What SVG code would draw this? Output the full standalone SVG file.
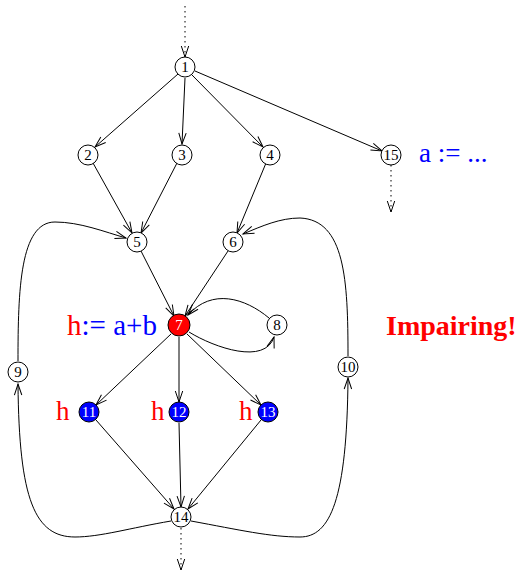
<svg xmlns="http://www.w3.org/2000/svg" width="517" height="576" viewBox="0 0 517 576">
<style>
.n circle{fill:#fff;stroke:#000;stroke-width:1}
.n text{font-family:"Liberation Serif",serif;font-size:15px;text-anchor:middle;fill:#000}
.n.red circle{fill:#f00}
.n.blue circle{fill:#00f}
.n.red text,.n.blue text{fill:#fff}
.e{fill:none;stroke:#000;stroke-width:1;marker-end:url(#arr)}
.d{stroke-dasharray:1.5 3.5}
.lbl{font-family:"Liberation Serif",serif;font-size:27px}
.big{font-size:29px}
.imp{font-size:28px;font-weight:bold}
</style>
<defs>
<marker id="arr" markerUnits="userSpaceOnUse" markerWidth="14" markerHeight="10" refX="11" refY="4" orient="auto" overflow="visible">
<path d="M0,0.3 L11,4 L0,7.7" fill="none" stroke="#000" stroke-width="1"/>
</marker>
</defs>
<rect width="517" height="576" fill="#fff"/>
<g id="connectors">
<path class="e d" d="M185,6 L185,57"/>
<path class="e" d="M178,74 L95,147"/>
<path class="e" d="M185,78 L182,144"/>
<path class="e" d="M192,75 L263,147"/>
<path class="e" d="M195,71 L382,151"/>
<path class="e d" d="M391,165 L391,212"/>
<path class="e" d="M93,163 L132,233"/>
<path class="e" d="M177,163 L141,233"/>
<path class="e" d="M266,163 L237,233"/>
<path class="e" d="M141,251 L174,316"/>
<path class="e" d="M228,251 L185,316"/>
<path class="e" d="M269,318 C245,298 212,288 188,315"/>
<path class="e" d="M189,332 C215,348 265,365 274,337"/>
<path class="e" d="M171,334 L96,405"/>
<path class="e" d="M179,337 L179,402"/>
<path class="e" d="M187,334 L261,405"/>
<path class="e" d="M96,420 L174,509"/>
<path class="e" d="M179,423 L181,507"/>
<path class="e" d="M261,420 L188,509"/>
<path class="e" d="M171,521 C130,528 100,537 75,537 C35,537 19,500 18,384"/>
<path class="e" d="M191,521 C240,530 270,537 300,537 C330,537 347,500 348,378"/>
<path class="e" d="M18,361 C18,290 20,222 55,222 C80,222 105,232 126,238"/>
<path class="e" d="M348,356 C348,280 345,220 300,218 C280,218 262,226 243,234"/>
<path class="e d" d="M181,528 L181,570"/>
</g>
<g id="n1" class="n"><circle cx="185" cy="67" r="10"/><text x="185" y="72">1</text></g>
<g id="n2" class="n"><circle cx="88" cy="155" r="10"/><text x="88" y="160">2</text></g>
<g id="n3" class="n"><circle cx="182" cy="155" r="10"/><text x="182" y="160">3</text></g>
<g id="n4" class="n"><circle cx="270" cy="155" r="10"/><text x="270" y="160">4</text></g>
<g id="n15" class="n"><circle cx="391" cy="155" r="10"/><text x="391" y="160">15</text></g>
<g id="n5" class="n"><circle cx="137" cy="242" r="10"/><text x="137" y="247">5</text></g>
<g id="n6" class="n"><circle cx="233" cy="242" r="10"/><text x="233" y="247">6</text></g>
<g id="n7" class="n red"><circle cx="179" cy="325" r="11"/><text x="179" y="330">7</text></g>
<g id="n8" class="n"><circle cx="277" cy="325" r="10"/><text x="277" y="330">8</text></g>
<g id="n9" class="n"><circle cx="18" cy="372" r="10"/><text x="18" y="377">9</text></g>
<g id="n10" class="n"><circle cx="348" cy="367" r="10"/><text x="348" y="372">10</text></g>
<g id="n11" class="n blue"><circle cx="89" cy="412" r="10"/><text x="89" y="417">11</text></g>
<g id="n12" class="n blue"><circle cx="179" cy="412" r="10"/><text x="179" y="417">12</text></g>
<g id="n13" class="n blue"><circle cx="268" cy="412" r="10"/><text x="268" y="417">13</text></g>
<g id="n14" class="n"><circle cx="181" cy="517" r="10"/><text x="181" y="522">14</text></g>
<g id="labels">
<text class="lbl" x="419" y="162" fill="#00f">a := ...</text>
<text class="lbl big" x="67" y="335"><tspan fill="#f00">h</tspan><tspan fill="#00f">:= a+b</tspan></text>
<text class="lbl" x="56" y="420" fill="#f00">h</text>
<text class="lbl" x="151" y="420" fill="#f00">h</text>
<text class="lbl" x="239" y="420" fill="#f00">h</text>
<text class="lbl imp" x="386" y="335" fill="#f00">Impairing!</text>
</g>
</svg>
